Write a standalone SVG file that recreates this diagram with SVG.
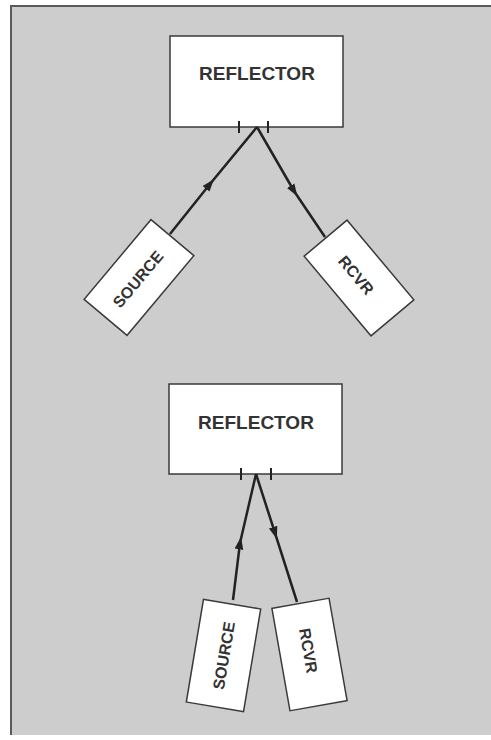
<svg xmlns="http://www.w3.org/2000/svg" width="491" height="740" viewBox="0 0 491 740">
<defs>
<style>
.box{fill:#ffffff;stroke:#3a3a3a;stroke-width:1.5}
.lbl{font-family:"Liberation Sans",Arial,sans-serif;font-weight:bold;fill:#333;text-anchor:middle}
.big{font-size:19px}
.sm{font-size:16px}
.ray{fill:none;stroke:#222;stroke-width:2.5;marker-mid:url(#arr)}
.tick{stroke:#222;stroke-width:2}
.edge{stroke:#5a5a5a;stroke-width:2}
</style>
<marker id="arr" viewBox="0 0 10 10" refX="5" refY="5" markerWidth="5" markerHeight="5" orient="auto" markerUnits="strokeWidth">
<path d="M0,1.5 L10,5 L0,8.5 z" fill="#222"/>
</marker>
</defs>
<rect x="0" y="0" width="491" height="740" fill="#ffffff"/>
<rect x="11" y="6" width="480" height="729" fill="#cdcdcd"/>
<line class="edge" x1="10" y1="6" x2="491" y2="6"/>
<line class="edge" x1="11" y1="5" x2="11" y2="735"/>

<g id="reflector1">
<rect class="box" x="170" y="36" width="173" height="91"/>
<text class="lbl big" x="257" y="80">REFLECTOR</text>
<line class="tick" x1="239" y1="121" x2="239" y2="133"/>
<line class="tick" x1="268" y1="121" x2="268" y2="133"/>
</g>
<g id="source1" transform="translate(139,277.5) rotate(-50)">
<rect class="box" x="-52" y="-28" width="104" height="56"/>
<text class="lbl sm" x="-2" y="6">SOURCE</text>
</g>
<g id="rcvr1" transform="translate(359,278) rotate(50)">
<rect class="box" x="-52" y="-28" width="104" height="56"/>
<text class="lbl sm" x="-4" y="6">RCVR</text>
</g>

<g id="reflector2">
<rect class="box" x="169" y="384" width="173" height="90"/>
<text class="lbl big" x="256" y="429">REFLECTOR</text>
<line class="tick" x1="241" y1="468" x2="241" y2="480"/>
<line class="tick" x1="271" y1="468" x2="271" y2="480"/>
</g>
<g id="source2" transform="translate(223.5,655.5) rotate(-80.5)">
<rect class="box" x="-52" y="-29" width="104" height="58"/>
<text class="lbl sm" x="0" y="6">SOURCE</text>
</g>
<g id="rcvr2" transform="translate(309.5,654.5) rotate(80)">
<rect class="box" x="-52" y="-29" width="104" height="58"/>
<text class="lbl sm" x="-4" y="6">RCVR</text>
</g>

<g id="connectors">
<path class="ray" d="M170,234 L210,184 L257,127"/>
<path class="ray" d="M257,127 L294,191 L325,237"/>
<path class="ray" d="M233,600 L240,543 L256,474"/>
<path class="ray" d="M256,474 L275,533 L297,602"/>
</g>
</svg>
